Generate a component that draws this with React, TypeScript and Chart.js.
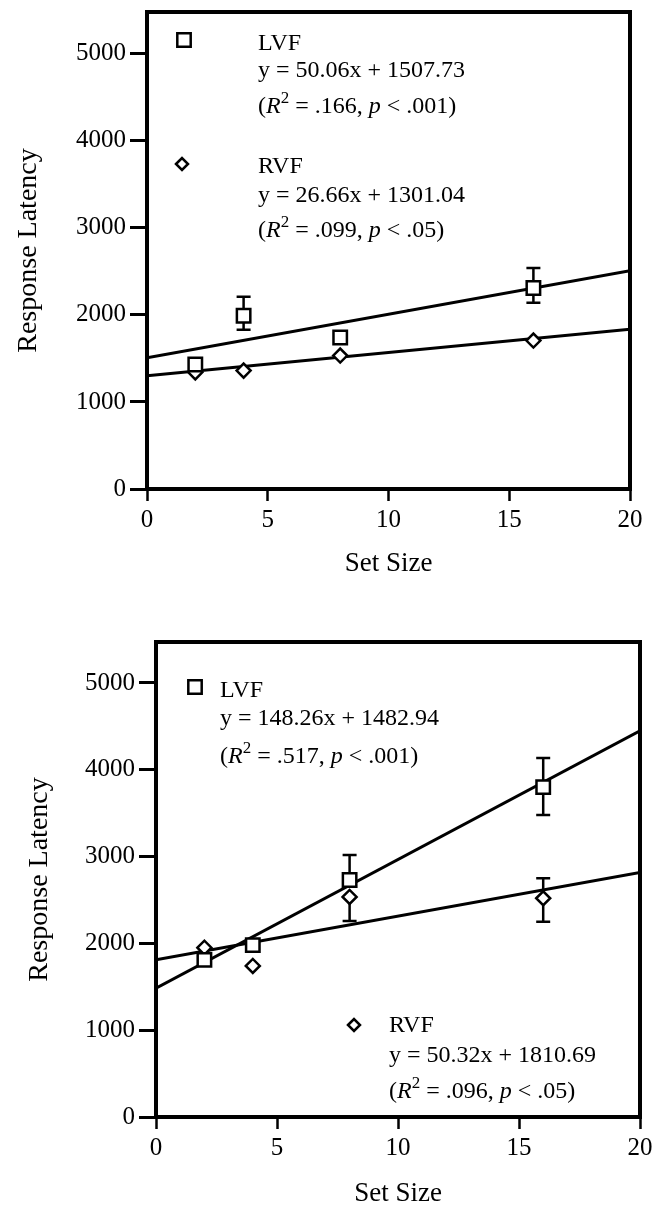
import React, { useEffect, useRef } from "react";
import { Chart, registerables } from "chart.js";

Chart.register(...registerables);

const SERIF = '"Liberation Serif", "Times New Roman", serif';

// ---------- data ----------
const setSizes = [2, 4, 8, 16];
const xRange = [0, 20];
const xTicks = [0, 5, 10, 15, 20];
const yTicks = [0, 1000, 2000, 3000, 4000, 5000];

// Panel 1 (top)
const p1LvfMeans = [1430, 1990, 1740, 2310];
const p1LvfErrHigh = [null, 2208, null, 2540];
const p1LvfErrLow = [null, 1830, null, 2140];
const p1RvfMeans = [1340, 1360, 1533, 1705];
const p1RvfErrHigh = [null, null, null, null];
const p1RvfErrLow = [null, null, null, null];
const p1LvfFit = [50.06, 1507.73]; // slope, intercept
const p1RvfFit = [26.66, 1301.04];
const p1LvfText = ["LVF", "y = 50.06x + 1507.73", ".166", "< .001"];
const p1RvfText = ["RVF", "y = 26.66x + 1301.04", ".099", "< .05"];

// Panel 2 (bottom)
const p2LvfMeans = [1810, 1980, 2730, 3800];
const p2LvfErrHigh = [null, null, 3018, 4136];
const p2LvfErrLow = [null, null, null, 3479];
const p2RvfMeans = [1950, 1740, 2535, 2520];
const p2RvfErrHigh = [null, null, null, 2750];
const p2RvfErrLow = [null, null, 2258, 2250];
const p2LvfFit = [148.26, 1482.94];
const p2RvfFit = [50.32, 1810.69];
const p2LvfText = ["LVF", "y = 148.26x + 1482.94", ".517", "< .001"];
const p2RvfText = ["RVF", "y = 50.32x + 1810.69", ".096", "< .05"];

// ---------- layout (pixels) ----------
const PANEL1 = {
  top: 0, height: 600, left: 147, right: 630, chartTop: 10, chartBottom: 489,
  yMax: 5480, yTitlePad: 12, xTitlePad: 20,
  legend: [
    { marker: "square", mx: 184, my: 40, tx: 258, ys: [50, 77, 113] },
    { marker: "diamond", mx: 182, my: 164, tx: 258, ys: [173, 202, 237] },
  ],
};
const PANEL2 = {
  top: 600, height: 606, left: 156, right: 640, chartTop: 42, chartBottom: 517,
  yMax: 5472, yTitlePad: 23, xTitlePad: -4,
  legend: [
    { marker: "square", mx: 195, my: 87, tx: 220, ys: [97, 125, 163] },
    { marker: "diamond", mx: 354, my: 425, tx: 389, ys: [432, 462, 498] },
  ],
};

type Series = {
  means: number[];
  errHigh: (number | null)[];
  errLow: (number | null)[];
  fit: number[];
  text: string[];
};

function drawMarker(ctx: CanvasRenderingContext2D, kind: string, x: number, y: number) {
  ctx.save();
  ctx.strokeStyle = "#000";
  ctx.fillStyle = "#fff";
  ctx.lineWidth = 2.5;
  ctx.beginPath();
  if (kind === "square") {
    const h = 6.7;
    ctx.rect(x - h, y - h, 2 * h, 2 * h);
  } else {
    const r = 6;
    ctx.moveTo(x - r, y);
    ctx.lineTo(x, y - r);
    ctx.lineTo(x + r, y);
    ctx.lineTo(x, y + r);
    ctx.closePath();
  }
  ctx.fill();
  ctx.stroke();
  ctx.restore();
}

function drawStats(ctx: CanvasRenderingContext2D, x: number, y: number, r2: string, p: string) {
  const normal = `24px ${SERIF}`;
  const italic = `italic 24px ${SERIF}`;
  const sup = `17px ${SERIF}`;
  const parts: [string, string, number][] = [
    ["(", normal, 0],
    ["R", italic, 0],
    ["2", sup, -10],
    [" = " + r2 + ", ", normal, 0],
    ["p", italic, 0],
    [" " + p + ")", normal, 0],
  ];
  let cx = x;
  for (const [t, f, dy] of parts) {
    ctx.font = f;
    ctx.fillText(t, cx, y + dy);
    cx += ctx.measureText(t).width;
  }
}

function Panel({ cfg, lvf, rvf }: { cfg: typeof PANEL1; lvf: Series; rvf: Series }) {
  const ref = useRef<HTMLCanvasElement>(null);

  useEffect(() => {
    const canvas = ref.current!;
    const toPts = (vals: number[]) => setSizes.map((x, i) => ({ x, y: vals[i] }));
    const fitPts = (f: number[]) => xRange.map((x) => ({ x, y: f[0] * x + f[1] }));

    const decor = {
      id: "panelDecor",
      beforeDatasetsDraw(chart: any) {
        const ctx = chart.ctx as CanvasRenderingContext2D;
        const xs = chart.scales.x;
        const ys = chart.scales.y;
        ctx.save();
        ctx.strokeStyle = "#000";
        ctx.lineWidth = 2.5;
        chart.data.datasets.forEach((ds: any) => {
          if (!ds.errHigh) return;
          ds.data.forEach((pt: any, i: number) => {
            const px = xs.getPixelForValue(pt.x);
            const py = ys.getPixelForValue(pt.y);
            [ds.errHigh[i], ds.errLow[i]].forEach((v: number | null) => {
              if (v == null) return;
              const ey = ys.getPixelForValue(v);
              ctx.beginPath();
              ctx.moveTo(px, py);
              ctx.lineTo(px, ey);
              ctx.moveTo(px - 7, ey);
              ctx.lineTo(px + 7, ey);
              ctx.stroke();
            });
          });
        });
        ctx.restore();
      },
      afterDraw(chart: any) {
        const ctx = chart.ctx as CanvasRenderingContext2D;
        const a = chart.chartArea;
        ctx.save();
        ctx.strokeStyle = "#000";
        ctx.lineWidth = 4;
        ctx.strokeRect(a.left, a.top, a.right - a.left, a.bottom - a.top);
        ctx.restore();

        const texts = [lvf.text, rvf.text];
        cfg.legend.forEach((lg, k) => {
          drawMarker(ctx, lg.marker, lg.mx, lg.my);
          const t = texts[k];
          ctx.save();
          ctx.fillStyle = "#000";
          ctx.textBaseline = "alphabetic";
          ctx.textAlign = "left";
          ctx.font = `24px ${SERIF}`;
          ctx.fillText(t[0], lg.tx, lg.ys[0]);
          ctx.fillText(t[1], lg.tx, lg.ys[1]);
          drawStats(ctx, lg.tx, lg.ys[2], t[2], t[3]);
          ctx.restore();
        });
      },
    };

    const chart = new Chart(canvas, {
      type: "scatter",
      data: {
        datasets: [
          {
            label: "LVF",
            data: toPts(lvf.means),
            pointStyle: "rect",
            pointRadius: 9.5,
            pointHoverRadius: 9.5,
            borderColor: "#000",
            backgroundColor: "#fff",
            borderWidth: 2.5,
            errHigh: lvf.errHigh,
            errLow: lvf.errLow,
          } as any,
          {
            label: "RVF",
            data: toPts(rvf.means),
            pointStyle: "rectRot",
            pointRadius: 7,
            pointHoverRadius: 7,
            borderColor: "#000",
            backgroundColor: "#fff",
            borderWidth: 2.5,
            errHigh: rvf.errHigh,
            errLow: rvf.errLow,
          } as any,
          {
            label: "LVF fit",
            data: fitPts(lvf.fit),
            showLine: true,
            pointRadius: 0,
            borderColor: "#000",
            borderWidth: 3,
            fill: false,
          },
          {
            label: "RVF fit",
            data: fitPts(rvf.fit),
            showLine: true,
            pointRadius: 0,
            borderColor: "#000",
            borderWidth: 3,
            fill: false,
          },
        ],
      },
      options: {
        animation: false,
        responsive: false,
        maintainAspectRatio: false,
        devicePixelRatio: 1,
        events: [],
        layout: { padding: { left: 0, right: 655 - cfg.right, top: cfg.chartTop, bottom: 0 } },
        plugins: { legend: { display: false }, tooltip: { enabled: false } },
        scales: {
          x: {
            type: "linear",
            position: "bottom",
            min: xRange[0],
            max: xRange[1],
            afterBuildTicks: (s: any) => {
              s.ticks = xTicks.map((v) => ({ value: v }));
            },
            ticks: {
              color: "#000",
              font: { family: SERIF, size: 25 },
              padding: 4,
              maxRotation: 0,
              autoSkip: false,
              callback: (v: any) => String(v),
            },
            grid: {
              display: true,
              drawOnChartArea: false,
              drawTicks: true,
              tickLength: 12,
              tickWidth: 2.5,
              tickColor: "#000",
              color: "#000",
            },
            border: { display: false },
            title: {
              display: true,
              text: "Set Size",
              color: "#000",
              font: { family: SERIF, size: 27 },
              padding: { top: 0, bottom: cfg.xTitlePad },
            },
            afterFit: (s: any) => {
              s.height = cfg.height - cfg.chartBottom;
              s.paddingLeft = 0;
              s.paddingRight = 0;
            },
          },
          y: {
            type: "linear",
            min: 0,
            max: cfg.yMax,
            afterBuildTicks: (s: any) => {
              s.ticks = yTicks.map((v) => ({ value: v }));
            },
            ticks: {
              color: "#000",
              font: { family: SERIF, size: 25 },
              padding: 4,
              autoSkip: false,
              callback: (v: any) => String(v),
            },
            grid: {
              display: true,
              drawOnChartArea: false,
              drawTicks: true,
              tickLength: 17,
              tickWidth: 3,
              tickColor: "#000",
              color: "#000",
            },
            border: { display: false },
            title: {
              display: true,
              text: "Response Latency",
              color: "#000",
              font: { family: SERIF, size: 28 },
              padding: { top: cfg.yTitlePad, bottom: 0 },
            },
            afterFit: (s: any) => {
              s.width = cfg.left;
              s.paddingTop = 0;
              s.paddingBottom = 0;
            },
          },
        },
      } as any,
      plugins: [decor],
    });
    return () => chart.destroy();
  }, []);

  return (
    <canvas
      ref={ref}
      width={655}
      height={cfg.height}
      style={{ position: "absolute", left: 0, top: cfg.top, width: 655, height: cfg.height, display: "block" }}
    />
  );
}

export default function App() {
  const p1Lvf: Series = { means: p1LvfMeans, errHigh: p1LvfErrHigh, errLow: p1LvfErrLow, fit: p1LvfFit, text: p1LvfText };
  const p1Rvf: Series = { means: p1RvfMeans, errHigh: p1RvfErrHigh, errLow: p1RvfErrLow, fit: p1RvfFit, text: p1RvfText };
  const p2Lvf: Series = { means: p2LvfMeans, errHigh: p2LvfErrHigh, errLow: p2LvfErrLow, fit: p2LvfFit, text: p2LvfText };
  const p2Rvf: Series = { means: p2RvfMeans, errHigh: p2RvfErrHigh, errLow: p2RvfErrLow, fit: p2RvfFit, text: p2RvfText };
  return (
    <div style={{ position: "absolute", left: 0, top: 0, width: 655, height: 1206, background: "#fff", overflow: "hidden" }}>
      <Panel cfg={PANEL1} lvf={p1Lvf} rvf={p1Rvf} />
      <Panel cfg={PANEL2} lvf={p2Lvf} rvf={p2Rvf} />
    </div>
  );
}
